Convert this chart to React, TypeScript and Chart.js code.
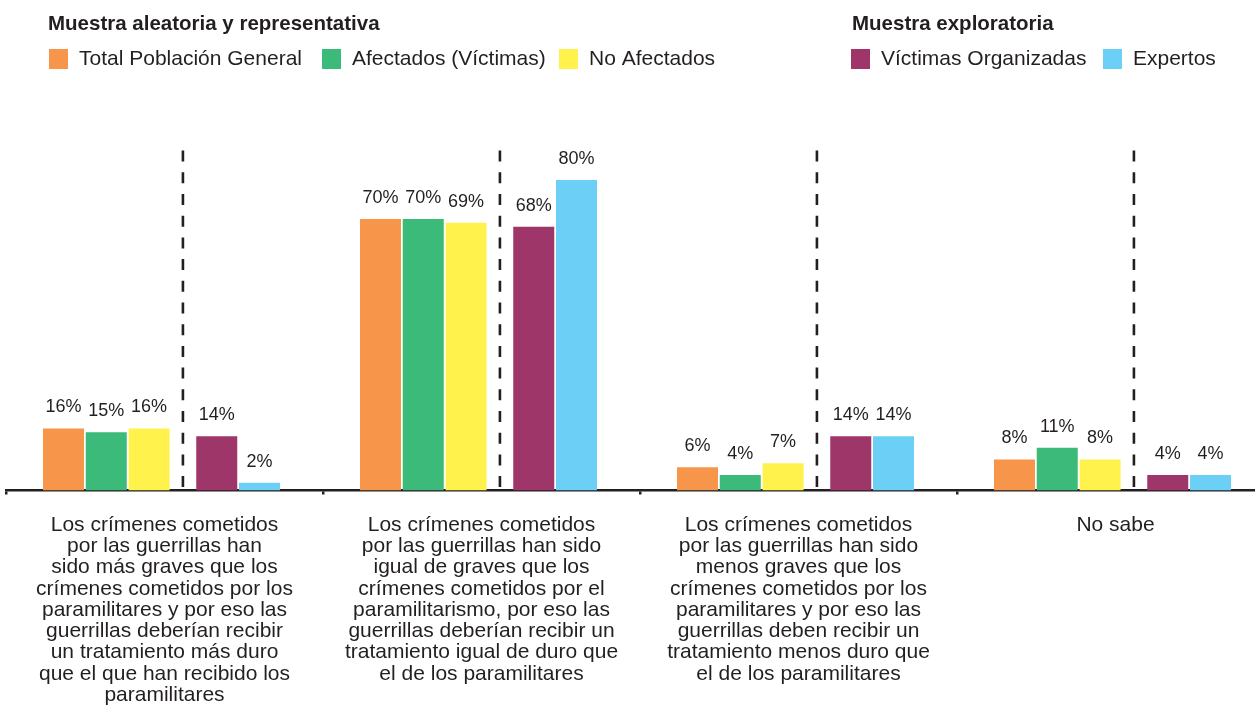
import React, { useEffect, useRef } from "react";
import { Chart, registerables } from "chart.js";

Chart.register(...registerables);

// ---------- DATA ----------
const CATEGORIES: string[][] = [
  [
    "Los crímenes cometidos",
    "por las guerrillas han",
    "sido más graves que los",
    "crímenes cometidos por los",
    "paramilitares y por eso las",
    "guerrillas deberían recibir",
    "un tratamiento más duro",
    "que el que han recibido los",
    "paramilitares",
  ],
  [
    "Los crímenes cometidos",
    "por las guerrillas han sido",
    "igual de graves que los",
    "crímenes cometidos por el",
    "paramilitarismo, por eso las",
    "guerrillas deberían recibir un",
    "tratamiento igual de duro que",
    "el de los paramilitares",
  ],
  [
    "Los crímenes cometidos",
    "por las guerrillas han sido",
    "menos graves que los",
    "crímenes cometidos por los",
    "paramilitares y por eso las",
    "guerrillas deben recibir un",
    "tratamiento menos duro que",
    "el de los paramilitares",
  ],
  ["No sabe"],
];

const GROUP_TITLES = ["Muestra aleatoria y representativa", "Muestra exploratoria"];

const SERIES_NAMES = [
  "Total Población General",
  "Afectados (Víctimas)",
  "No Afectados",
  "Víctimas Organizadas",
  "Expertos",
];

const TOTAL_POBLACION = [16, 70, 6, 8];
const AFECTADOS = [15, 70, 4, 11];
const NO_AFECTADOS = [16, 69, 7, 8];
const VICTIMAS_ORGANIZADAS = [14, 68, 14, 4];
const EXPERTOS = [2, 80, 14, 4];

// ---------- STYLE ----------
const FONT = '"Liberation Sans", Arial, Helvetica, sans-serif';
const TEXT = "#231F20";
const COLORS = ["#F7954A", "#3BBA7A", "#FFF24C", "#9E366A", "#6CCFF6"];
// per-dataset category share (sets each bar's slot so the two groups sit apart)
const CAT_PCT = [0.7647, 0.735, 0.583, 0.66, 0.6593, 0.7192];
const DASH_TOP_VALUE = 87.6;

// legend layout: box x positions, text starts 30px after box
const LEGEND_BOX_X = [49, 322, 559, 851, 1103];
const TITLE_X = [48, 852];

const valueLabels = {
  id: "valueLabels",
  afterDatasetsDraw(chart: any) {
    const ctx = chart.ctx;
    ctx.save();
    ctx.font = `18px ${FONT}`;
    ctx.fillStyle = TEXT;
    ctx.textAlign = "center";
    ctx.textBaseline = "alphabetic";
    chart.data.datasets.forEach((ds: any, di: number) => {
      if (ds.spacer) return;
      const meta = chart.getDatasetMeta(di);
      meta.data.forEach((el: any, i: number) => {
        const v = ds.data[i];
        if (v == null) return;
        ctx.fillText(`${v}%`, el.x, el.y - 16);
      });
    });
    ctx.restore();
  },
};

const separators = {
  id: "separators",
  afterDatasetsDraw(chart: any) {
    const ctx = chart.ctx;
    const left = chart.getDatasetMeta(2).data;
    const right = chart.getDatasetMeta(4).data;
    const y = chart.scales.y;
    ctx.save();
    ctx.strokeStyle = TEXT;
    ctx.lineWidth = 2.6;
    ctx.setLineDash([11, 10.7]);
    for (let i = 0; i < left.length; i++) {
      const a = left[i];
      const b = right[i];
      const x = (a.x + a.width / 2 + (b.x - b.width / 2)) / 2;
      ctx.beginPath();
      ctx.moveTo(x, y.getPixelForValue(DASH_TOP_VALUE));
      ctx.lineTo(x, y.getPixelForValue(0));
      ctx.stroke();
    }
    ctx.restore();
  },
};

const groupedLegend = {
  id: "groupedLegend",
  afterDraw(chart: any) {
    const ctx = chart.ctx;
    ctx.save();
    ctx.fillStyle = TEXT;
    ctx.textAlign = "left";
    ctx.textBaseline = "alphabetic";
    ctx.font = `bold 20.5px ${FONT}`;
    GROUP_TITLES.forEach((t, i) => ctx.fillText(t, TITLE_X[i], 30));
    ctx.font = `21px ${FONT}`;
    SERIES_NAMES.forEach((name, i) => {
      ctx.fillStyle = COLORS[i];
      ctx.fillRect(LEGEND_BOX_X[i], 49, 19, 20);
      ctx.fillStyle = TEXT;
      ctx.fillText(name, LEGEND_BOX_X[i] + 30, 64.5);
    });
    ctx.restore();
  },
};

export default function App() {
  const ref = useRef<HTMLCanvasElement | null>(null);

  useEffect(() => {
    if (!ref.current) return;
    const values = [TOTAL_POBLACION, AFECTADOS, NO_AFECTADOS, VICTIMAS_ORGANIZADAS, EXPERTOS];
    const datasets: any[] = [];
    values.forEach((vals, i) => {
      if (i === 3) {
        datasets.push({
          label: "",
          spacer: true,
          data: CATEGORIES.map(() => null),
          backgroundColor: "rgba(0,0,0,0)",
          categoryPercentage: CAT_PCT[3],
        });
      }
      const k = i < 3 ? i : i + 1;
      datasets.push({
        label: SERIES_NAMES[i],
        data: vals,
        backgroundColor: COLORS[i],
        borderWidth: 0,
        categoryPercentage: CAT_PCT[k],
        barPercentage: 2,
        maxBarThickness: 41,
      });
    });

    const chart = new Chart(ref.current, {
      type: "bar",
      data: { labels: CATEGORIES, datasets },
      options: {
        animation: false,
        responsive: true,
        maintainAspectRatio: false,
        layout: { padding: { left: 6, right: 6, top: 102.5, bottom: 0 } },
        plugins: { legend: { display: false }, tooltip: { enabled: false } },
        scales: {
          x: {
            type: "category",
            z: 1,
            afterFit: (scale: any) => {
              scale.height = 214.5;
            },
            grid: {
              offset: true,
              drawOnChartArea: false,
              drawTicks: true,
              tickLength: 4,
              color: TEXT,
              lineWidth: 2.5,
            },
            border: { display: true, color: TEXT, width: 2.5 },
            ticks: {
              color: TEXT,
              font: { family: FONT, size: 21, lineHeight: "21.25px" },
              padding: 20,
              maxRotation: 0,
              minRotation: 0,
              autoSkip: false,
            },
          },
          y: { display: false, min: 0, max: 100 },
        },
      },
      plugins: [separators, valueLabels, groupedLegend],
    } as any);
    return () => chart.destroy();
  }, []);

  return (
    <div
      style={{
        position: "absolute",
        left: 0,
        top: 0,
        width: 1255,
        height: 705,
        overflow: "hidden",
        background: "#fff",
      }}
    >
      <div style={{ position: "relative", width: 1280, height: 705 }}>
        <canvas ref={ref} />
      </div>
    </div>
  );
}
